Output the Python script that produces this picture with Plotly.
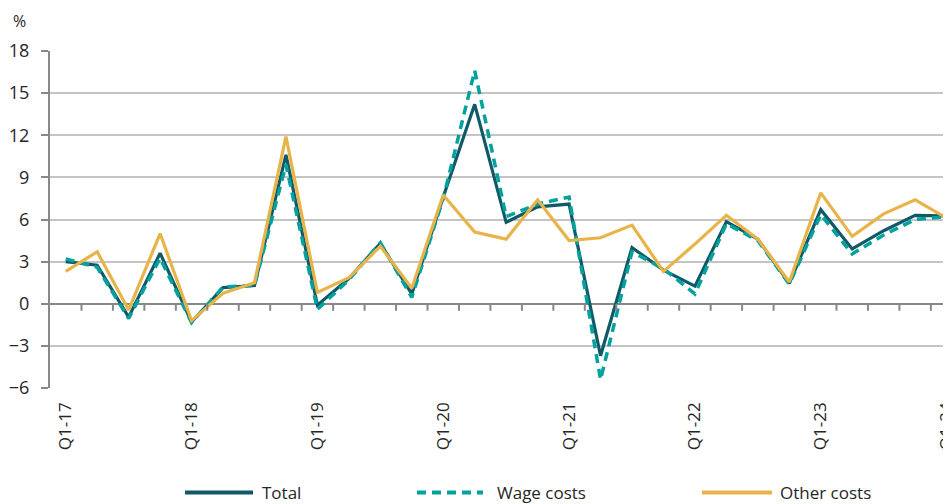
import plotly.graph_objects as go

quarters = ["Q1-17", "Q2-17", "Q3-17", "Q4-17",
            "Q1-18", "Q2-18", "Q3-18", "Q4-18",
            "Q1-19", "Q2-19", "Q3-19", "Q4-19",
            "Q1-20", "Q2-20", "Q3-20", "Q4-20",
            "Q1-21", "Q2-21", "Q3-21", "Q4-21",
            "Q1-22", "Q2-22", "Q3-22", "Q4-22",
            "Q1-23", "Q2-23", "Q3-23", "Q4-23",
            "Q1-24"]

total = [3.0, 2.75, -0.95, 3.6,
         -1.3, 1.15, 1.3, 10.6,
         -0.1, 1.8, 4.3, 0.7,
         7.6, 14.2, 5.8, 6.9,
         7.1, -3.7, 4.0, 2.4,
         1.25, 5.85, 4.6, 1.45,
         6.7, 3.9, 5.2, 6.3,
         6.25]

wage = [3.2, 2.6, -1.05, 3.25,
        -1.35, 1.2, 1.3, 9.9,
        -0.4, 1.7, 4.35, 0.45,
        7.5, 16.6, 6.2, 7.1,
        7.6, -5.4, 3.7, 2.5,
        0.7, 5.7, 4.5, 1.4,
        6.35, 3.55, 4.9, 6.0,
        6.2]

other = [2.3, 3.7, -0.45, 5.0,
         -1.2, 0.75, 1.5, 11.9,
         0.8, 1.85, 4.1, 1.1,
         7.75, 5.1, 4.6, 7.4,
         4.5, 4.7, 5.6, 2.3,
         4.25, 6.3, 4.6, 1.55,
         7.9, 4.8, 6.4, 7.4,
         6.1]

series_names = ["Total", "Wage costs", "Other costs"]
y_ticks = [-6, -3, 0, 3, 6, 9, 12, 15, 18]
x_label_ticks = quarters[::4]

C_TOTAL = "#0F5A66"
C_WAGE = "#00A19E"
C_OTHER = "#E8B44A"
FONT = "Open Sans"
TXT = "#262626"

idx = list(range(len(quarters)))

fig = go.Figure()
fig.add_trace(go.Scatter(x=idx, y=total, name=series_names[0], mode="lines",
                         line=dict(color=C_TOTAL, width=3.2)))
fig.add_trace(go.Scatter(x=idx, y=wage, name=series_names[1], mode="lines",
                         line=dict(color=C_WAGE, width=3.5, dash="9px,6px")))
fig.add_trace(go.Scatter(x=idx, y=other, name=series_names[2], mode="lines",
                         line=dict(color=C_OTHER, width=3.2)))

# tick marks along zero line at category boundaries
shapes = []
for i in range(len(quarters) - 1):
    shapes.append(dict(type="line", xref="x", yref="y", ysizemode="pixel",
                       yanchor=0, x0=i + 0.5, x1=i + 0.5, y0=0, y1=-7,
                       line=dict(color="#888888", width=2), layer="above"))

# manual legend
leg_y = -0.310
legend_items = [
    (series_names[0], C_TOTAL, "solid", 0.1498, 0.2253, 0.2331),
    (series_names[1], C_WAGE, "9px,6px", 0.4073, 0.4806, 0.4940),
    (series_names[2], C_OTHER, "solid", 0.7236, 0.8013, 0.8080),
]
annotations = []
for name, col, dash, x0, x1, xt in legend_items:
    shapes.append(dict(type="line", xref="paper", yref="paper",
                       x0=x0, x1=x1, y0=leg_y, y1=leg_y,
                       line=dict(color=col, width=4, dash=dash)))
    annotations.append(dict(text=name, xref="paper", yref="paper",
                            x=xt, y=leg_y, xanchor="left", yanchor="middle",
                            showarrow=False,
                            font=dict(family=FONT, size=17, color=TXT)))

annotations.append(dict(text="%", xref="paper", yref="paper",
                        x=-0.024, y=1.089, xanchor="right", yanchor="middle",
                        showarrow=False,
                        font=dict(family=FONT, size=16, color=TXT)))

fig.update_layout(
    width=943, height=496,
    margin=dict(l=42, r=0, t=43, b=116, autoexpand=False),
    paper_bgcolor="white", plot_bgcolor="white",
    showlegend=False,
    font=dict(family=FONT, color=TXT),
    shapes=shapes,
    annotations=annotations,
    xaxis=dict(
        range=[-0.5, 28.14],
        tickmode="array", tickvals=[quarters.index(q) for q in x_label_ticks],
        ticktext=x_label_ticks, tickangle=-90,
        ticks="", ticklabelstandoff=10,
        ticklabeloverflow="allow", automargin=False,
        showgrid=False, zeroline=False, showline=False,
        tickfont=dict(family=FONT, size=17, color=TXT),
    ),
    yaxis=dict(
        range=[-6, 18], automargin=False,
        tickmode="array", tickvals=y_ticks,
        ticks="outside", ticklen=7, tickwidth=2, tickcolor="#888888",
        ticklabelstandoff=8,
        showline=True, linecolor="#888888", linewidth=2,
        showgrid=True, gridcolor="#C4C4C4", gridwidth=2,
        zeroline=True, zerolinecolor="#888888", zerolinewidth=2,
        tickfont=dict(family=FONT, size=18, color=TXT),
    ),
)

fig.write_html("out.html")
